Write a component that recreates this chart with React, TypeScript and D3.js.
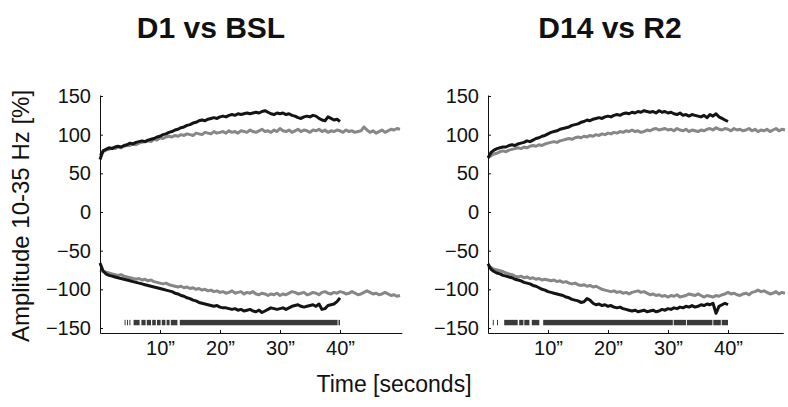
import * as d3 from "d3";
import React, { useRef, useEffect } from "react";

// samples are 0.5 s apart, starting at stimulus onset
const STEP = 0.5;

// D1 vs BSL
const d1UpBlack = [
  68, 79, 81, 83, 82, 84, 85, 84, 86, 87,
  89, 88, 90, 91, 92, 91, 93, 94, 95, 97,
  98, 100, 101, 103, 104, 106, 107, 109, 110, 112,
  113, 115, 116, 118, 119, 118, 120, 121, 122, 121,
  123, 124, 123, 125, 126, 125, 127, 126, 127, 128,
  127, 128, 129, 128, 130, 131, 129, 127, 126, 128,
  127, 128, 126, 127, 125, 124, 122, 121, 123, 124,
  123, 125, 124, 121, 119, 118, 123, 121, 119, 120,
  117
];
const d1UpGray = [
  73, 78, 80, 81, 83, 82, 84, 83, 85, 86,
  86, 88, 87, 89, 90, 91, 92, 91, 94, 93,
  96, 95, 97, 98, 97, 99, 98, 100, 99, 101,
  100, 99, 102, 101, 100, 103, 102, 101, 104, 102,
  103, 104, 102, 105, 103, 104, 102, 105, 104, 103,
  106, 104, 103, 105, 107, 104, 105, 103, 106, 104,
  108, 105, 104, 106, 103, 105, 107, 104, 106, 105,
  103, 106, 105, 107, 104, 106, 103, 105, 104, 106,
  105, 103, 106, 104, 105, 103, 104, 105, 110, 106,
  103, 105, 102, 104, 106, 103, 105, 107, 106, 108,
  107
];
const d1DownBlack = [
  -66, -76, -80, -82, -83, -84, -85, -86, -87, -88,
  -89, -90, -91, -92, -93, -94, -95, -96, -97, -98,
  -99, -100, -101, -102, -103, -105, -106, -108, -109, -111,
  -112, -114, -115, -117, -118, -119, -120, -121, -122, -121,
  -123, -124, -124, -125, -126, -125, -127, -126, -128, -127,
  -126, -128, -129, -127, -130, -128, -126, -124, -125, -126,
  -125, -124, -126, -124, -122, -121, -120, -122, -123, -122,
  -121, -120, -122, -119, -126, -125, -121, -120, -119, -116,
  -111
];
const d1DownGray = [
  -75, -77, -78, -79, -80, -81, -82, -81, -83, -84,
  -85, -86, -87, -86, -88, -87, -89, -88, -90, -91,
  -92, -93, -92, -94, -95, -96, -97, -96, -98, -97,
  -99, -98, -100, -99, -101, -100, -102, -101, -103, -102,
  -104, -103, -105, -104, -102, -105, -104, -103, -106, -104,
  -105, -103, -106, -107, -105, -106, -108, -106, -107, -105,
  -108, -106, -107, -105, -103, -104, -106, -105, -104, -107,
  -106, -104, -105, -107, -104, -103, -105, -106, -104, -105,
  -103, -104, -106, -105, -103, -105, -107, -106, -104, -102,
  -104, -106, -105, -107, -106, -104, -106, -108, -107, -109,
  -108
];
// significant time windows [start, end] in seconds
const d1Sig = [
  [4.1, 4.25], [4.5, 4.65], [4.9, 5.05], [5.6, 6.6], [6.9, 7.6], [7.8, 8.5],
  [8.7, 9.3], [9.5, 10.1], [10.3, 10.9], [11.1, 11.6], [11.8, 12.9], [13.3, 39.6],
  [39.75, 40]
];

// D14 vs R2
const d14UpBlack = [
  70, 77, 80, 82, 83, 84, 84, 86, 87, 86,
  88, 89, 90, 92, 91, 93, 95, 96, 98, 99,
  101, 103, 104, 105, 107, 108, 109, 110, 112, 113,
  114, 116, 117, 119, 118, 120, 121, 122, 121, 123,
  124, 123, 125, 126, 125, 127, 128, 127, 129, 128,
  130, 129, 131, 130, 129, 130, 128, 131, 129, 130,
  128, 129, 127, 126, 128, 125, 126, 124, 126, 125,
  124, 123, 125, 122, 126, 124, 127, 123, 121, 119,
  117
];
const d14UpGray = [
  70, 73, 75, 76, 78, 79, 78, 80, 81, 82,
  83, 82, 84, 83, 85, 86, 85, 87, 86, 88,
  89, 90, 91, 90, 92, 93, 94, 95, 94, 96,
  97, 96, 98, 97, 99, 98, 100, 99, 101, 100,
  102, 101, 103, 102, 104, 103, 105, 104, 106, 104,
  105, 103, 104, 106, 105, 107, 108, 106, 107, 108,
  106, 107, 105, 108, 106, 105, 107, 104, 106, 105,
  104, 106, 105, 107, 108, 106, 109, 107, 106, 108,
  107, 105, 108, 106, 107, 105, 106, 108, 105, 107,
  104, 106, 105, 107, 104, 106, 108, 105, 107, 106
];
const d14DownBlack = [
  -67, -74, -77, -79, -80, -82, -83, -84, -85, -87,
  -88, -89, -91, -92, -93, -95, -96, -98, -100, -101,
  -103, -104, -105, -106, -107, -108, -110, -111, -113, -114,
  -115, -117, -116, -112, -114, -118, -120, -119, -121, -120,
  -122, -121, -123, -124, -123, -125, -126, -127, -128, -127,
  -129, -128, -127, -129, -128, -127, -129, -128, -126, -127,
  -125, -126, -124, -125, -123, -124, -122, -123, -121, -123,
  -122, -120, -121, -119, -120, -118, -131, -122, -120, -118,
  -120
];
const d14DownGray = [
  -70, -72, -74, -75, -76, -77, -79, -80, -81, -83,
  -84, -83, -85, -84, -86, -85, -87, -86, -88, -87,
  -88, -89, -88, -90, -89, -91, -90, -92, -93, -92,
  -94, -95, -94, -96, -95, -97, -96, -98, -100, -101,
  -102, -103, -102, -104, -103, -105, -104, -106, -104, -103,
  -102, -104, -103, -105, -107, -106, -108, -107, -109, -108,
  -110, -108, -109, -107, -110, -109, -108, -106, -107, -108,
  -106, -108, -110, -108, -109, -110, -108, -109, -107, -106,
  -104, -106, -105, -107, -108, -106, -105, -107, -104, -103,
  -101, -103, -102, -104, -106, -105, -103, -106, -104, -105
];
const d14Sig = [
  [0.8, 0.95], [1.5, 1.65], [2.7, 4.95], [5.2, 5.9], [6.05, 6.9], [7.3, 8.55],
  [9.2, 30.8], [30.95, 33.0], [33.15, 37.4], [37.55, 38.8], [38.95, 40]
];

const xTicks = [10, 20, 30, 40];
const yTicks = [150, 100, 50, 0, -50, -100, -150];

const panels = [
  {
    title: "D1 vs BSL", titleX: 211, x0: 100, xMax: 50.3,
    gray: [d1UpGray, d1DownGray], black: [d1UpBlack, d1DownBlack], sig: d1Sig
  },
  {
    title: "D14 vs R2", titleX: 610, x0: 488, xMax: 49.2,
    gray: [d14UpGray, d14DownGray], black: [d14UpBlack, d14DownBlack], sig: d14Sig
  }
];

const FONT = "'Liberation Sans', Arial, Helvetica, sans-serif";
const BLACK = "#141414";
const GRAY = "#878787";

export default function App() {
  const ref = useRef(null);

  useEffect(() => {
    const svg = d3.select(ref.current);
    svg.selectAll("*").remove();

    // y limits chosen so the axis line runs a bit past the end ticks
    const y = d3.scaleLinear().domain([-156.5, 151.3]).range([333, 95]);

    panels.forEach(p => {
      const x = d3
        .scaleLinear()
        .domain([0, p.xMax])
        .range([p.x0, p.x0 + 6 * p.xMax]);
      const g = svg.append("g");

      const line = d3
        .line<number>()
        .x((d, i) => x(i * STEP))
        .y(d => y(d));

      // significance raster
      g.selectAll("rect.sig")
        .data(p.sig)
        .enter()
        .append("rect")
        .attr("x", d => x(d[0]))
        .attr("width", d => Math.max(1, x(d[1]) - x(d[0])))
        .attr("y", y(-139.5))
        .attr("height", y(-146.5) - y(-139.5))
        .attr("fill", "#3a3a3a");

      p.gray.forEach(s => {
        g.append("path")
          .attr("d", line(s))
          .attr("fill", "none")
          .attr("stroke", GRAY)
          .attr("stroke-width", 3)
          .attr("stroke-linejoin", "round");
      });
      p.black.forEach(s => {
        g.append("path")
          .attr("d", line(s))
          .attr("fill", "none")
          .attr("stroke", BLACK)
          .attr("stroke-width", 3)
          .attr("stroke-linejoin", "round");
      });

      // Y axis
      const ya = g
        .append("g")
        .attr("transform", `translate(${p.x0},0)`)
        .call(
          d3.axisLeft(y).tickValues(yTicks).tickSizeInner(-3).tickSizeOuter(0).tickPadding(9)
        );
      // X axis
      const xa = g
        .append("g")
        .attr("transform", `translate(0,${y(-156.5)})`)
        .call(
          d3
            .axisBottom(x)
            .tickValues(xTicks)
            .tickSizeInner(-3)
            .tickSizeOuter(0)
            .tickPadding(8)
            .tickFormat(d => `${d}\u201D`)
        );
      [ya, xa].forEach(a => {
        a.attr("font-family", FONT).attr("font-size", 20);
        a.selectAll("text").attr("fill", "#111");
        a.selectAll("line").attr("stroke", "#111");
        a.select(".domain").attr("stroke", "#111");
      });

      // title
      svg
        .append("text")
        .attr("x", p.titleX)
        .attr("y", 38)
        .attr("text-anchor", "middle")
        .attr("font-family", FONT)
        .attr("font-weight", "bold")
        .attr("font-size", 30)
        .attr("fill", "#111")
        .text(p.title);
    });

    // text label for the y axis
    svg
      .append("text")
      .attr("transform", "translate(29,216) rotate(-90)")
      .attr("text-anchor", "middle")
      .attr("font-family", FONT)
      .attr("font-size", 24)
      .attr("fill", "#111")
      .text("Amplitude 10-35 Hz [%]");

    // text label for the x axis
    svg
      .append("text")
      .attr("x", 394)
      .attr("y", 392)
      .attr("text-anchor", "middle")
      .attr("font-family", FONT)
      .attr("font-size", 23)
      .attr("fill", "#111")
      .text("Time [seconds]");
  }, []);

  return (
    <div style={{ position: "absolute", left: 0, top: 0 }}>
      <svg ref={ref} width={788} height={407} style={{ display: "block", background: "#fff" }}></svg>
    </div>
  );
}
